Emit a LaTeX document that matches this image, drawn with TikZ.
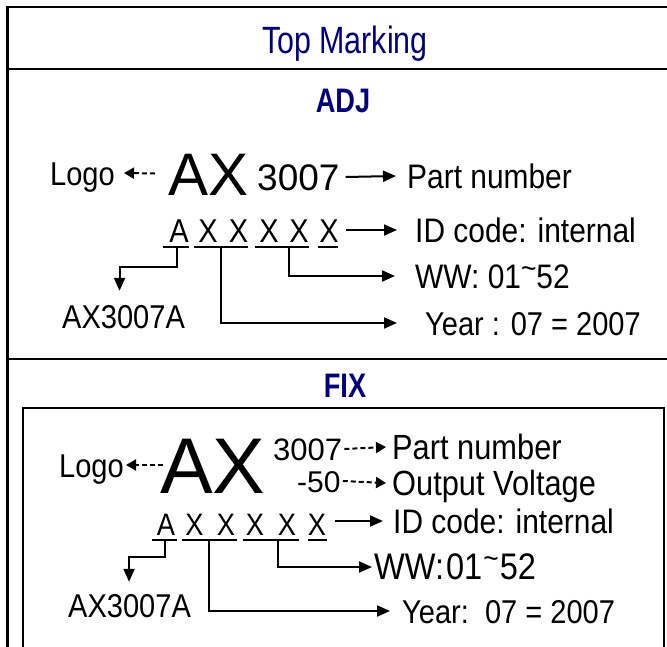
\documentclass[tikz,border=0pt]{standalone}
\usepackage{fontspec}
\setmainfont{Liberation Sans}[FakeStretch=0.88]
\newfontfamily\plainsf{Liberation Sans}
\newfontfamily\hdrsf{Liberation Sans}[FakeStretch=0.8]
\usetikzlibrary{arrows.meta,calc}
\definecolor{hdrblue}{RGB}{0,0,128}
\newcommand{\fsz}[1]{\fontsize{#1}{#1}\selectfont}
\newcommand{\tld}{\raisebox{.28em}{\fsz{30}\textasciitilde}}
\begin{document}
\begin{tikzpicture}[x=1pt,y=-1pt,
	frame/.style={line width=2.2pt},
	inbox/.style={line width=1.6pt},
	hdr/.style={inner sep=0pt,anchor=base,text=hdrblue},
	txt/.style={inner sep=0pt,anchor=base west,text height=24pt,text depth=0pt,font=\fsz{33}},
	code/.style={inner sep=0pt,anchor=base,text height=24pt,text depth=0pt,font=\fsz{33}},
	uline/.style={line width=2pt},
	conn/.style={line width=2pt,-{Triangle[length=13pt,width=11pt]}},
	dasharr/.style={line width=2pt,dash pattern=on 5pt off 3pt,-{Triangle[length=10pt,width=11pt]}}]
		\useasboundingbox (0,0) rectangle (667,646);
		\clip (0,0) rectangle (667,646);
		\draw [frame] (7.5,700) -- (7.5,7) -- (700,7);
		\draw [frame] (7.5,69) -- (700,69);
		\draw [frame] (7.5,359) -- (700,359);
		\draw [inbox] (23,700) -- (23,408) -- (664,408) -- (664,700);
		\node [hdr,font=\hdrsf\fsz{38}] (title) at (345,53) {Top Marking};
		\node [hdr,font=\hdrsf\bfseries\fsz{34}] (adj) at (343,112) {ADJ};
		\node [hdr,font=\hdrsf\bfseries\fsz{34}] (fix) at (345,397) {FIX};
		\node [txt] (adjlogo) at (50,185) {Logo};
		\node [txt,font=\plainsf\fsz{60},text height=43pt] (adjax) at (168,195) {AX};
		\node [txt,font=\plainsf\fsz{37},text height=26pt] (adjnum) at (257,190) {3007};
		\node [txt,font=\fsz{34}] (adjpart) at (407,188) {Part number};
		\node [txt,font=\fsz{34}] (adjid) at (415,242) {ID code: internal};
		\node [txt,font=\fsz{34}] (adjww) at (415,288) {WW: 01\tld52};
		\node [txt,font=\fsz{33}] (adjyear) at (425,335) {Year : 07 = 2007};
		\node [txt] (adjsub) at (62,328) {AX3007A};
		\foreach \n/\x/\c in {1/179/A,2/208/X,3/238.5/X,4/269/X,5/299/X,6/329/X}
			\node [code] (adj\n) at (\x,242) {\c};
		\draw [uline] ($(adj1.base)+(-16,5)$) -- ($(adj1.base)+(10,5)$);
		\draw [uline] ($(adj2.base)+(-14,5)$) -- ($(adj3.base)+(9.5,5)$);
		\draw [uline] ($(adj4.base)+(-14,5)$) -- ($(adj5.base)+(10,5)$);
		\draw [uline] ($(adj6.base)+(-11,5)$) -- ($(adj6.base)+(9,5)$);
		\draw [dasharr] ($(adjax.west)+(-13,0)$) -- ($(adjlogo.east)+(9,0)$);
		\draw [conn] ($(adjnum.east)+(6,0)$) -- ($(adjpart.west)+(-11,0)$);
		\draw [conn] ($(adj6.east)+(7,0)$) -- ($(adjid.west)+(-18,0)$);
		\draw [conn] ($(adj1.base)+(-2,6)$) -- ++(0,19) -| ($(adjsub.north)+(-4,-13)$);
		\draw [conn] ($(adj2.base)+(13,6)$) |- ($(adjyear.west)+(-28,0)$);
		\draw [conn] ($(adj5.base)+(-10,6)$) |- ($(adjww.west)+(-20,0)$);
		\node [txt] (fixlogo) at (59,477) {Logo};
		\node [txt,font=\plainsf\fsz{79},text height=56pt] (fixax) at (160,493) {AX};
		\node [txt,font=\plainsf\fsz{31},text height=22pt] (fixnum) at (273,460) {3007};
		\node [txt,font=\plainsf\fsz{30},text height=22pt] (fixvolt) at (297,492) {-50};
		\node [txt,font=\fsz{35}] (fixpart) at (392,459) {Part number};
		\node [txt,font=\fsz{35}] (fixout) at (392,495) {Output Voltage};
		\node [txt,font=\fsz{34}] (fixid) at (393,533) {ID code: internal};
		\node [txt,font=\fsz{37}] (fixww) at (374,579) {WW:\kern2pt01\kern1pt\tld\kern1pt52};
		\node [txt,font=\fsz{33}] (fixyear) at (402,623) {Year:\ \ 07 = 2007};
		\node [txt] (fixsub) at (68,617) {AX3007A};
		\foreach \n/\x/\c in {1/166/A,2/194.5/X,3/226/X,4/255/X,5/287/X,6/317/X}
			\node [code,font=\fsz{31},text height=22pt] (fix\n) at (\x,535) {\c};
		\draw [uline] ($(fix1.base)+(-14,5)$) -- ($(fix1.base)+(11,5)$);
		\draw [uline] ($(fix2.base)+(-12.5,5)$) -- ($(fix3.base)+(11,5)$);
		\draw [uline] ($(fix4.base)+(-12,5)$) -- ($(fix5.base)+(12,5)$);
		\draw [uline] ($(fix6.base)+(-9,5)$) -- ($(fix6.base)+(10,5)$);
		\draw [dasharr] ($(fixax.west |- fixlogo.east)+(3,0)$) -- ($(fixlogo.east)+(2,0)$);
		\draw [dasharr] ($(fixnum.east)+(2,0)$) -- ($(fixpart.west)+(-6,0)$);
		\draw [dasharr] ($(fixvolt.east)+(2,0)$) -- ($(fixout.west)+(-6,0)$);
		\draw [conn] ($(fix6.east |- fixid.west)+(9,0)$) -- ($(fixid.west)+(-10,0)$);
		\draw [conn] ($(fix1.base)+(-1,6)$) -- ++(0,16) -| ($(fixsub.north)+(-0.5,-11)$);
		\draw [conn] ($(fix2.base)+(14.5,6)$) |- ($(fixyear.west)+(-12,0)$);
		\draw [conn] ($(fix4.base)+(23,6)$) |- ($(fixww.west)+(-2,0)$);
	\end{tikzpicture}
\end{document}
